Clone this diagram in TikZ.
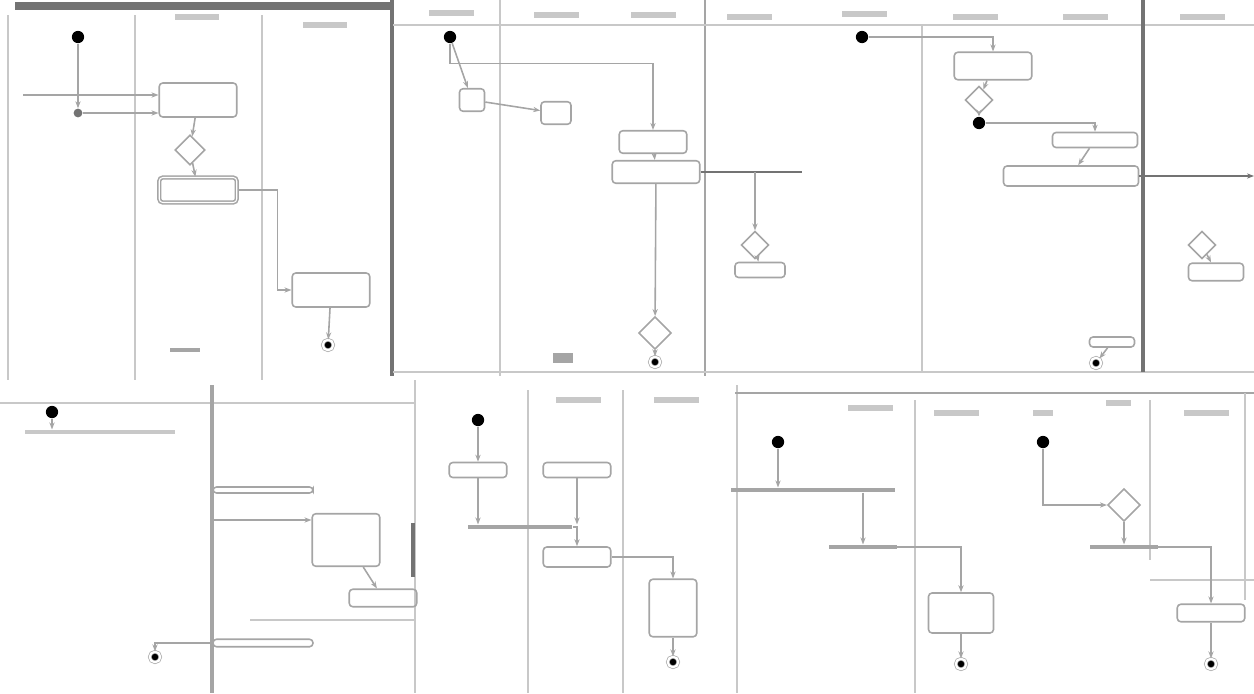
\documentclass[tikz,border=0pt]{standalone}
\usetikzlibrary{arrows.meta,positioning,shapes.geometric}
\definecolor{lanegray}{RGB}{200,200,200}
\definecolor{edgegray}{RGB}{115,115,115}
\definecolor{inkgray}{RGB}{165,165,165}

\begin{document}
\begin{tikzpicture}[x=0.02cm, y=-0.02cm,
    lane/.style={draw=lanegray, line width=1.3pt},
    frame/.style={draw=edgegray, line width=2.2pt},
    act/.style={draw=inkgray, rounded corners=2pt, line width=0.9pt,
                minimum width=1.4cm, minimum height=0.45cm, inner sep=0pt},
    bar/.style={fill=inkgray, minimum width=1.3cm, minimum height=2.5pt, inner sep=0pt},
    lbl/.style={fill=lanegray, minimum width=0.9cm, minimum height=3pt, inner sep=0pt},
    startdot/.style={circle, fill=black, minimum size=7pt, inner sep=0pt},
    stopdot/.style={circle, fill=black, minimum size=6pt, inner sep=0pt,
                    draw=inkgray, double=white, double distance=1.2pt},
    dec/.style={diamond, draw=inkgray, line width=0.9pt, minimum size=0.65cm, inner sep=0pt},
    arr/.style={-{Stealth[length=4pt]}, draw=inkgray, line width=0.9pt}
  ]
  \useasboundingbox (0,0) rectangle (1254,693);

  % top left lanes
  \draw[frame, line width=5pt] (15,6) -- (390,6);
  \draw[lane] (8,15) -- (8,380); \draw[lane] (135,15) -- (135,380);
  \draw[lane] (262,15) -- (262,380);
  \draw[frame] (392,0) -- (392,376);
  \node[lbl] (ha2) at (197,17) {}; \node[lbl] (ha3) at (325,25) {};
  \node[startdot] (a0) at (78,37) {};
  \node[circle, fill=edgegray, minimum size=5pt, inner sep=0pt] (a1) at (78,113) {};
  \node[act, minimum width=1.55cm, minimum height=0.68cm] (a2) at (198,100) {};
  \node[dec, minimum size=0.6cm] (a3) at (190,150) {};
  \node[act, minimum width=1.55cm, minimum height=0.5cm, double=white] (a4) at (198,190) {};
  \node[act, minimum width=1.55cm, minimum height=0.68cm] (a5) at (331,290) {};
  \node[stopdot] (a6) at (328,345) {};
  \node[bar, minimum width=0.6cm] (a7) at (185,350) {};
  \draw[arr] (a0) -- (a1); \draw[arr] (a1) -- (a2.west |- a1);
  \draw[arr] (a2.west |- 0,95) ++(-135,0) -- (a2.west |- 0,95);
  \draw[arr] (a2) -- (a3); \draw[arr] (a3) -- (a4);
  \draw[arr] (a4.east) -- ++(40,0) |- (a5.west);
  \draw[arr] (a5) -- (a6);

  % top middle lanes
  \draw[lane] (500,0) -- (500,376); \draw[lane, draw=inkgray] (705,0) -- (705,376);
  \draw[lane] (393,25) -- (1254,25); \draw[lane] (393,372) -- (1254,372);
  \node[lbl] (hb1) at (451,13) {}; \node[lbl] (hb2) at (556,15) {};
  \node[lbl] (hb3) at (653,15) {};
  \node[startdot] (b0) at (450,37) {};
  \node[act, minimum width=0.5cm] (b1) at (472,100) {};
  \node[act, minimum width=0.6cm] (b2) at (556,113) {};
  \node[act, minimum width=1.35cm] (b3) at (653,142) {};
  \node[act, minimum width=1.75cm] (b4) at (656,172) {};
  \node[dec] (b5) at (655,333) {};
  \node[stopdot] (b6) at (655,362) {};
  \node[bar, minimum width=0.4cm, minimum height=6pt] (b7) at (563,358) {};
  \draw[arr] (b0.south) -- ++(0,20) -| (b3.north);
  \draw[arr] (b0) -- (b1); \draw[arr] (b1) -- (b2);
  \draw[arr] (b3) -- (b4); \draw[arr] (b4) -- (b5); \draw[arr] (b5) -- (b6);

  % top right lanes
  \draw[lane] (922,25) -- (922,372); \draw[frame] (1143,0) -- (1143,372);
  \node[lbl] (hc1) at (749,17) {}; \node[lbl] (hc2) at (864,14) {};
  \node[lbl] (hc3) at (975,17) {}; \node[lbl] (hc4) at (1085,17) {};
  \node[lbl] (hc5) at (1202,17) {};
  \node[startdot] (c0) at (862,37) {};
  \node[act, minimum width=1.55cm, minimum height=0.55cm] (c1) at (993,66) {};
  \node[dec, minimum size=0.55cm] (c2) at (979,100) {};
  \node[startdot] (c3) at (979,123) {};
  \node[act, minimum width=1.7cm, minimum height=0.3cm] (c4) at (1095,140) {};
  \node[act, minimum width=2.7cm, minimum height=0.4cm] (c5) at (1071,176) {};
  \node[dec, minimum size=0.55cm] (c8) at (755,245) {};
  \node[act, minimum width=1cm, minimum height=0.3cm] (c9) at (760,270) {};
  \node[dec, minimum size=0.55cm] (c10) at (1202,245) {};
  \node[act, minimum width=1.1cm, minimum height=0.35cm] (c11) at (1216,272) {};
  \node[act, minimum width=0.9cm, minimum height=0.2cm] (c13) at (1112,342) {};
  \node[stopdot] (c12) at (1096,363) {};
  \draw[arr] (c0) -| (c1); \draw[arr] (c1) -- (c2); \draw[arr] (c2) -- (c3);
  \draw[arr] (c3) -| (c4); \draw[arr] (c4) -- (c5);
  \draw[frame, line width=1.4pt] (b4.east) -- (802,172);
  \draw[arr, draw=edgegray, line width=1.4pt] (c5.east) -- (c5.east -| 1254,0);
  \draw[arr] (c8 |- 0,172) -- (c8); \draw[arr] (c8) -- (c9);
  \draw[arr] (c10) -- (c11); \draw[arr] (c13) -- (c12);

  % bottom left lanes
  \draw[lane] (0,403) -- (415,403); \draw[frame, draw=inkgray] (212,385) -- (212,693);
  \draw[lane] (415,380) -- (415,693);
  \node[startdot] (d0) at (52,412) {};
  \node[bar, minimum width=3cm, fill=lanegray] (d1) at (100,432) {};
  \node[act, minimum width=2cm, minimum height=0.12cm] (d2) at (263,490) {};
  \node[act, minimum width=1.35cm, minimum height=1.05cm] (d4) at (346,540) {};
  \node[act, minimum width=1.35cm, minimum height=0.35cm] (d5) at (383,598) {};
  \node[act, minimum width=2cm, minimum height=0.15cm] (d7) at (263,643) {};
  \node[stopdot] (d8) at (155,657) {};
  \draw[arr] (d0) -- (d0 |- d1.north); \draw[arr] (d2.west |- 0,520) -- (d4.west |- 0,520);
  \draw[arr] (d4) -- (d5);
  \draw[frame, draw=edgegray] (413,523) -- (413,577);
  \draw[lane] (250,620) -- (415,620); \draw[arr] (d7) -| (d8);

  % bottom middle lanes
  \draw[lane] (528,390) -- (528,693); \draw[lane] (623,390) -- (623,693);
  \draw[lane] (737,385) -- (737,693);
  \node[lbl] (he2) at (578,400) {}; \node[lbl] (he3) at (676,400) {};
  \node[startdot] (e0) at (478,420) {};
  \node[act, minimum width=1.15cm, minimum height=0.3cm] (e1) at (478,470) {};
  \node[act, minimum width=1.35cm, minimum height=0.3cm] (e2) at (577,470) {};
  \node[bar, minimum width=2.1cm] (e3) at (520,527) {};
  \node[act, minimum width=1.35cm, minimum height=0.4cm] (e4) at (577,557) {};
  \node[act, minimum width=0.95cm, minimum height=1.15cm] (e5) at (673,608) {};
  \node[stopdot] (e6) at (673,662) {};
  \draw[arr] (e0) -- (e1); \draw[arr] (e1) -- (e1 |- e3.north);
  \draw[arr] (e2) -- (e2 |- e3.north); \draw[arr] (e3) -| (e4);
  \draw[arr] (e4) -| (e5); \draw[arr] (e5) -- (e6);

  % bottom right lanes
  \draw[lane, draw=inkgray] (735,393) -- (1254,393);
  \draw[lane] (915,400) -- (915,693); \draw[lane] (1150,400) -- (1150,560);
  \draw[lane] (1150,580) -- (1254,580); \draw[lane] (1245,393) -- (1245,600);
  \node[lbl] (hf1) at (870,408) {}; \node[lbl] (hf2) at (956,413) {};
  \node[lbl, minimum width=0.4cm] (hf3) at (1043,413) {};
  \node[lbl, minimum width=0.5cm] (hf4) at (1118,403) {};
  \node[lbl] (hf5) at (1206,413) {};
  \node[startdot] (f0) at (778,442) {};
  \node[bar, minimum width=3.3cm] (f1) at (813,490) {};
  \node[startdot] (f2) at (1043,442) {};
  \node[dec] (f3) at (1124,505) {};
  \node[bar, minimum width=1.35cm] (f4) at (1124,547) {};
  \node[bar, minimum width=1.35cm] (f5) at (863,547) {};
  \node[act, minimum width=1.3cm, minimum height=0.8cm] (f6) at (961,613) {};
  \node[stopdot] (f7) at (961,664) {};
  \node[act, minimum width=1.35cm, minimum height=0.35cm] (f8) at (1211,613) {};
  \node[stopdot] (f9) at (1211,664) {};
  \draw[arr] (f0) -- (f0 |- f1.north); \draw[arr] (f1.south -| f5) -- (f5);
  \draw[arr] (f2) |- (f3); \draw[arr] (f3) -- (f4);
  \draw[arr] (f5) -| (f6); \draw[arr] (f6) -- (f7);
  \draw[arr] (f4) -| (f8); \draw[arr] (f8) -- (f9);
\end{tikzpicture}
\end{document}
